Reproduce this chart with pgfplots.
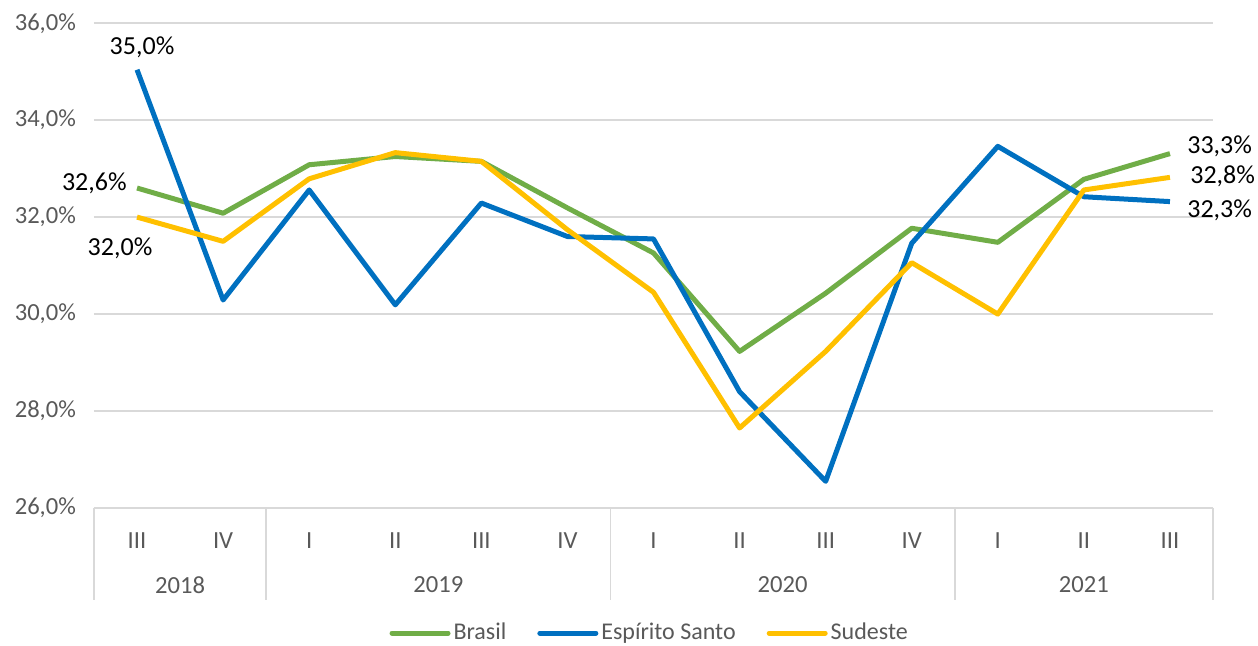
\documentclass[border=0pt]{standalone}
\usepackage{pgfplots}
\pgfplotsset{compat=1.18}
\usepackage{fontspec}
\setmainfont{Carlito}
\definecolor{cBrasil}{HTML}{70AD47}
\definecolor{cES}{HTML}{0070C0}
\definecolor{cSE}{HTML}{FFC000}
\definecolor{cGrid}{HTML}{D9D9D9}
\definecolor{cText}{HTML}{595959}
\begin{document}
\begin{tikzpicture}
\path[use as bounding box] (0,0) rectangle (629pt,323pt);
\begin{axis}[
    at={(47pt,69pt)}, anchor=south west,
    scale only axis,
    width=559.5pt, height=242.4pt,
    xmin=-0.5, xmax=12.5,
    ymin=26, ymax=36,
    ytick={26,28,30,32,34,36},
    yticklabels={{26,0\%},{28,0\%},{30,0\%},{32,0\%},{34,0\%},{36,0\%}},
    xtick={0,...,12},
    xticklabels={III,IV,I,II,III,IV,I,II,III,IV,I,II,III},
    major tick length=0pt,
    ymajorgrids,
    grid style={cGrid, line width=0.8pt},
    axis line style={draw=none},
    tick label style={font=\fontsize{12.3}{14}\selectfont, text=cText},
    yticklabel style={xshift=-5.5pt},
    xticklabel style={yshift=-9pt},
    clip=false,
    legend columns=-1,
    legend style={at={(0.497,-0.258)}, anchor=center, draw=none,
        inner sep=1pt, nodes={inner sep=1.5pt},
        font=\fontsize{12}{14}\selectfont, text=cText,
        /tikz/every even column/.append style={column sep=14pt}},
    legend image code/.code={\draw[#1, line width=2.5pt, line cap=round] (0pt,0pt) -- (28pt,0pt);},
    every axis plot/.append style={line width=2.5pt, line join=round, mark=none},
]
\addplot[cBrasil] coordinates {(0,32.60) (1,32.08) (2,33.08) (3,33.25) (4,33.15) (5,32.19) (6,31.26) (7,29.23) (8,30.43) (9,31.77) (10,31.48) (11,32.78) (12,33.31)};
\addplot[cES] coordinates {(0,35.04) (1,30.29) (2,32.56) (3,30.19) (4,32.29) (5,31.60) (6,31.55) (7,28.40) (8,26.55) (9,31.46) (10,33.46) (11,32.42) (12,32.32)};
\addplot[cSE] coordinates {(0,32.00) (1,31.50) (2,32.79) (3,33.33) (4,33.15) (5,31.74) (6,30.45) (7,27.65) (8,29.23) (9,31.06) (10,30.00) (11,32.56) (12,32.82)};
\legend{Brasil, Espírito Santo, Sudeste}
% category separators
\draw[cGrid, line width=0.8pt] (axis cs:-0.5,26) -- ([yshift=-46pt]axis cs:-0.5,26);
\draw[cGrid, line width=0.8pt] (axis cs:1.5,26) -- ([yshift=-46pt]axis cs:1.5,26);
\draw[cGrid, line width=0.8pt] (axis cs:5.5,26) -- ([yshift=-46pt]axis cs:5.5,26);
\draw[cGrid, line width=0.8pt] (axis cs:9.5,26) -- ([yshift=-46pt]axis cs:9.5,26);
\draw[cGrid, line width=0.8pt] (axis cs:12.5,26) -- ([yshift=-46pt]axis cs:12.5,26);
\node[text=cText, font=\fontsize{12.3}{14}\selectfont] at ([yshift=-38.5pt]axis cs:0.5,26) {2018};
\node[text=cText, font=\fontsize{12.3}{14}\selectfont] at ([yshift=-38.5pt]axis cs:3.5,26) {2019};
\node[text=cText, font=\fontsize{12.3}{14}\selectfont] at ([yshift=-38.5pt]axis cs:7.5,26) {2020};
\node[text=cText, font=\fontsize{12.3}{14}\selectfont] at ([yshift=-38.5pt]axis cs:11,26) {2021};
% data labels
\begin{scope}[every node/.style={font=\fontsize{13}{15}\selectfont, text=black, inner sep=0pt}]
\node[anchor=south] at ([xshift=2.5pt,yshift=6pt]axis cs:0,35.04) {35,0\%};
\node[anchor=east] at ([xshift=-5pt,yshift=2.5pt]axis cs:0,32.60) {32,6\%};
\node at ([xshift=-8.5pt,yshift=-15.5pt]axis cs:0,32.00) {32,0\%};
\node[anchor=west] at ([xshift=8.5pt,yshift=3.5pt]axis cs:12,33.31) {33,3\%};
\node[anchor=west] at ([xshift=10pt,yshift=0.5pt]axis cs:12,32.82) {32,8\%};
\node[anchor=west] at ([xshift=8.5pt,yshift=-4.5pt]axis cs:12,32.32) {32,3\%};
\end{scope}
\end{axis}
\end{tikzpicture}
\end{document}
